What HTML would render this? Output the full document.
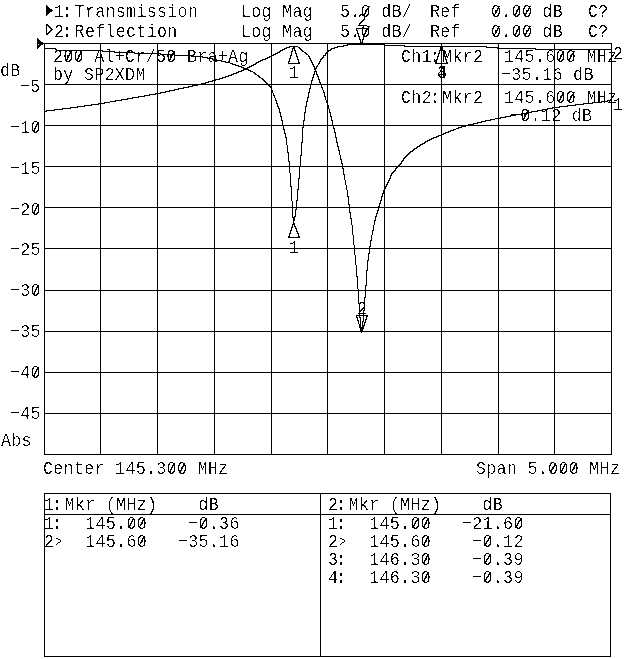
<!DOCTYPE html>
<html><head><meta charset="utf-8"><title>Network analyzer plot</title>
<style>
html,body{margin:0;padding:0;background:#fff;}
body{width:640px;height:659px;position:relative;overflow:hidden;}
.t{position:absolute;white-space:pre;font-family:"Liberation Mono",monospace;font-size:18.0px;line-height:20px;color:#000;letter-spacing:0.273px;transform:scaleX(0.93);transform-origin:0 0;}
svg{position:absolute;left:0;top:0;}
.n{position:relative;top:-1px;}
.c{position:relative;left:-2.4px;}
.g{display:inline-block;transform:translate(1.4px,-1px) scale(0.66,0.86);transform-origin:0 62%;}
#txt{position:absolute;left:0;top:0;width:640px;height:659px;filter:url(#thr);}
</style></head><body>
<svg width="0" height="0"><defs><filter id="thr" x="0" y="0" width="100%" height="100%" color-interpolation-filters="sRGB"><feComponentTransfer><feFuncA type="discrete" tableValues="0 0 0 0 0 0 0 0 0 0 0 0 0 0 0 0 0 0 0 0 0 0 0 0 0 0 0 0 0 0 0 1 1 1 1 1 1 1 1 1 1 1 1 1 1 1 1 1 1 1"/></feComponentTransfer></filter></defs></svg>
<div id="txt">
<div class="t" style="left:54.0px;top:2.21px">1<span class="c">:</span>Transmission</div>
<div class="t" style="left:241.3px;top:2.21px">Log Mag</div>
<div class="t" style="left:340.4px;top:2.21px">5.0 dB/</div>
<div class="t" style="left:429.8px;top:2.21px">Ref</div>
<div class="t" style="left:491.2px;top:2.21px">0.00 dB</div>
<div class="t" style="left:588.4px;top:2.21px">C?</div>
<div class="t" style="left:54.0px;top:22.21px">2<span class="c">:</span>Reflection</div>
<div class="t" style="left:241.3px;top:22.21px">Log Mag</div>
<div class="t" style="left:340.4px;top:22.21px">5.0 dB/</div>
<div class="t" style="left:429.8px;top:22.21px">Ref</div>
<div class="t" style="left:491.2px;top:22.21px">0.00 dB</div>
<div class="t" style="left:588.4px;top:22.21px">C?</div>
<div class="t" style="left:53.1px;top:47.21px">200 Al+Cr/50 Bra+Ag</div>
<div class="t" style="left:53.1px;top:65.21px">by SP2XDM</div>
<div class="t" style="left:401.0px;top:47.21px">Ch1<span class="c">:</span>Mkr2</div>
<div class="t" style="left:504.2px;top:47.21px">145.600 MHz</div>
<div class="t" style="left:500.5px;top:65.21px"><span class="n">−</span>35.16 dB</div>
<div class="t" style="left:401.0px;top:88.21px">Ch2<span class="c">:</span>Mkr2</div>
<div class="t" style="left:504.2px;top:88.21px">145.600 MHz</div>
<div class="t" style="left:510.2px;top:106.21px"><span class="n">−</span>0.12 dB</div>
<div class="t" style="left:-0.2px;top:61.21px">dB</div>
<div class="t" style="left:20.0px;top:77.21px"><span class="n">−</span>5</div>
<div class="t" style="left:9.7px;top:118.21px"><span class="n">−</span>10</div>
<div class="t" style="left:9.7px;top:159.21px"><span class="n">−</span>15</div>
<div class="t" style="left:9.7px;top:200.21px"><span class="n">−</span>20</div>
<div class="t" style="left:9.7px;top:240.21px"><span class="n">−</span>25</div>
<div class="t" style="left:9.7px;top:281.21px"><span class="n">−</span>30</div>
<div class="t" style="left:9.7px;top:322.21px"><span class="n">−</span>35</div>
<div class="t" style="left:9.7px;top:363.21px"><span class="n">−</span>40</div>
<div class="t" style="left:9.7px;top:404.21px"><span class="n">−</span>45</div>
<div class="t" style="left:0.6px;top:431.21px">Abs</div>
<div class="t" style="left:42.8px;top:459.21px">Center 145.300 MHz</div>
<div class="t" style="left:475.5px;top:459.21px">Span 5.000 MHz</div>
<div class="t" style="left:43.5px;top:495.21px">1<span class="c">:</span>Mkr (MHz)    dB</div>
<div class="t" style="left:43.5px;top:514.21px">1<span class="c">:</span>  145.00    <span class="n">−</span>0.36</div>
<div class="t" style="left:43.5px;top:532.21px">2<span class="g">&gt;</span>  145.60   <span class="n">−</span>35.16</div>
<div class="t" style="left:327.6px;top:495.21px">2<span class="c">:</span>Mkr (MHz)    dB</div>
<div class="t" style="left:327.6px;top:514.21px">1<span class="c">:</span>  145.00   <span class="n">−</span>21.60</div>
<div class="t" style="left:327.6px;top:532.21px">2<span class="g">&gt;</span>  145.60    <span class="n">−</span>0.12</div>
<div class="t" style="left:327.6px;top:550.21px">3<span class="c">:</span>  146.30    <span class="n">−</span>0.39</div>
<div class="t" style="left:327.6px;top:568.21px">4<span class="c">:</span>  146.30    <span class="n">−</span>0.39</div>
<div class="t" style="left:288.6px;top:63.21px">1</div>
<div class="t" style="left:288.6px;top:238.21px">1</div>
<div class="t" style="left:356.6px;top:11.21px">2</div>
<div class="t" style="left:356.8px;top:299.21px">2</div>
<div class="t" style="left:436.6px;top:63.21px">3</div>
<div class="t" style="left:436.6px;top:63.21px">4</div>
<div class="t" style="left:612.8px;top:44.21px">2</div>
<div class="t" style="left:613.0px;top:95.21px">1</div>
</div>
<svg width="640" height="659" viewBox="0 0 640 659" shape-rendering="crispEdges" fill="none" stroke="#000" stroke-width="1">
<path d="M44.5 43V455M100.5 43V455M157.5 43V455M214.5 43V455M271.5 43V455M327.5 43V455M384.5 43V455M441.5 43V455M498.5 43V455M554.5 43V455M611.5 43V455M44 43.5H612M44 84.5H612M44 125.5H612M44 166.5H612M44 207.5H612M44 248.5H612M44 290.5H612M44 331.5H612M44 372.5H612M44 413.5H612M44 454.5H612"/>
<path d="M44.5 493V657M610.5 493V657M44 493.5H611M44 656.5H611M44 514.5H611M320.5 493V657"/>
<path stroke="none" fill="#000" d="M386 184v3h1v-3zM293 46v3h1v-3zM293 217v8h1v-8zM272 90v3h1v-3zM285 133v5h1v-5zM439 50v4h1v-4zM369 246v8h1v-8zM297 56v4h1v-4zM297 189v12h1v-12zM297 231v3h1v-3zM359 36v4h1v-4zM359 303v15h1v-15zM359 324v4h1v-4zM291 51v5h1v-5zM291 186v15h1v-15zM291 227v4h1v-4zM318 76v4h1v-4zM373 225v6h1v-6zM310 58v3h1v-3zM310 84v5h1v-5zM288 61v3h1v-3zM288 152v10h1v-10zM354 245v10h1v-10zM375 216v5h1v-5zM350 212v7h1v-7zM281 116v5h1v-5zM356 28v3h1v-3zM356 265v12h1v-12zM356 315v3h1v-3zM334 128v5h1v-5zM299 166v13h1v-13zM317 74v3h1v-3zM298 59v5h1v-5zM298 178v12h1v-12zM298 233v5h1v-5zM344 174v6h1v-6zM46 24v11h1v-11zM377 210v4h1v-4zM363 36v4h1v-4zM363 310v12h1v-12zM363 325v4h1v-4zM324 92v5h1v-5zM442 46v5h1v-5zM326 100v3h1v-3zM385 186v3h1v-3zM304 112v9h1v-9zM290 55v4h1v-4zM290 173v14h1v-14zM290 230v4h1v-4zM343 168v7h1v-7zM443 50v4h1v-4zM353 235v10h1v-10zM362 39v4h1v-4zM362 321v11h1v-11zM438 53v4h1v-4zM330 112v5h1v-5zM309 56v3h1v-3zM309 88v5h1v-5zM340 155v5h1v-5zM287 145v8h1v-8zM444 53v4h1v-4zM368 253v8h1v-8zM372 230v5h1v-5zM307 97v5h1v-5zM331 116v5h1v-5zM283 125v5h1v-5zM352 225v10h1v-10zM284 129v5h1v-5zM376 213v4h1v-4zM336 137v6h1v-6zM247 67v3h1v-3zM401 161v3h1v-3zM347 190v7h1v-7zM51 28v3h1v-3zM357 30v4h1v-4zM357 276v13h1v-13zM357 317v4h1v-4zM243 67v4h1v-4zM303 120v8h1v-8zM308 92v6h1v-6zM358 33v4h1v-4zM358 289v15h1v-15zM358 320v4h1v-4zM295 50v4h1v-4zM295 209v8h1v-8zM295 226v3h1v-3zM296 53v4h1v-4zM296 200v10h1v-10zM296 228v4h1v-4zM361 42v3h1v-3zM361 327v6h1v-6zM367 260v11h1v-11zM280 112v5h1v-5zM380 200v4h1v-4zM332 120v5h1v-5zM289 58v4h1v-4zM289 161v12h1v-12zM289 233v5h1v-5zM315 68v4h1v-4zM302 127v16h1v-16zM292 48v4h1v-4zM292 201v17h1v-17zM292 224v4h1v-4zM322 87v3h1v-3zM301 142v14h1v-14zM366 28v3h1v-3zM366 270v16h1v-16zM366 315v5h1v-5zM325 53v3h1v-3zM325 96v4h1v-4zM360 39v4h1v-4zM360 317v14h1v-14zM286 137v8h1v-8zM348 196v9h1v-9zM300 155v12h1v-12zM339 150v5h1v-5zM365 30v4h1v-4zM365 285v13h1v-13zM365 319v4h1v-4zM395 168v3h1v-3zM342 163v6h1v-6zM355 255v10h1v-10zM436 59v5h1v-5zM379 203v4h1v-4zM364 33v4h1v-4zM364 297v14h1v-14zM364 322v4h1v-4zM314 66v4h1v-4zM314 71v4h1v-4zM305 106v7h1v-7zM345 180v5h1v-5zM335 132v6h1v-6zM387 182v3h1v-3zM440 46v5h1v-5zM390 175v4h1v-4zM273 93v3h1v-3zM275 98v3h1v-3zM374 220v5h1v-5zM276 100v4h1v-4zM321 85v3h1v-3zM338 146v5h1v-5zM294 46v5h1v-5zM294 216v5h1v-5zM294 223v4h1v-4zM382 193v4h1v-4zM306 101v6h1v-6zM351 218v7h1v-7zM445 56v4h1v-4zM327 102v4h1v-4zM446 59v5h1v-5zM316 66v3h1v-3zM316 71v4h1v-4zM282 120v5h1v-5zM388 180v3h1v-3zM312 62v3h1v-3zM312 77v4h1v-4zM437 56v4h1v-4zM311 60v3h1v-3zM311 80v5h1v-5zM391 173v3h1v-3zM349 204v9h1v-9zM370 240v7h1v-7zM383 190v4h1v-4zM329 109v4h1v-4zM378 206v5h1v-5zM279 108v5h1v-5zM337 142v5h1v-5zM389 178v3h1v-3zM277 103v4h1v-4zM271 88v3h1v-3zM371 235v6h1v-6zM323 55v3h1v-3zM323 90v3h1v-3zM384 188v3h1v-3zM341 159v5h1v-5zM328 105v4h1v-4zM381 196v5h1v-5zM313 64v3h1v-3zM313 74v4h1v-4zM319 61v3h1v-3zM319 79v4h1v-4zM346 185v5h1v-5zM274 95v3h1v-3zM278 106v3h1v-3zM333 125v4h1v-4zM403 158v3h1v-3zM320 59v3h1v-3zM320 82v3h1v-3zM197 84h5v1h-5zM267 84h2v1h-2zM70 107h8v1h-8zM552 107h8v1h-8zM62 108h9v1h-9zM547 108h6v1h-6zM231 74h3v1h-3zM255 74h2v1h-2zM241 70h2v1h-2zM248 70h3v1h-3zM422 143h3v1h-3zM110 101h6v1h-6zM601 101h7v1h-7zM175 55h17v1h-17zM271 55h3v1h-3zM308 55h1v1h-1zM324 55h1v1h-1zM134 53h27v1h-27zM275 53h3v1h-3zM305 53h2v1h-2zM326 53h1v1h-1zM228 75h4v1h-4zM257 75h2v1h-2zM241 67h2v1h-2zM248 67h2v1h-2zM232 64h4v1h-4zM253 64h3v1h-3zM318 64h1v1h-1zM138 96h7v1h-7zM230 63h3v1h-3zM255 63h2v1h-2zM289 63h9v1h-9zM299 63h1v1h-1zM318 63h1v1h-1zM435 63h1v1h-1zM437 63h9v1h-9zM447 63h1v1h-1zM233 73h4v1h-4zM254 73h2v1h-2zM55 49h2v1h-2zM282 49h3v1h-3zM300 49h2v1h-2zM330 49h2v1h-2zM535 49h77v1h-77zM114 52h21v1h-21zM277 52h3v1h-3zM304 52h2v1h-2zM326 52h2v1h-2zM44 48h12v1h-12zM284 48h3v1h-3zM299 48h2v1h-2zM331 48h4v1h-4zM497 48h39v1h-39zM347 44h14v1h-14zM362 44h23v1h-23zM216 60h6v1h-6zM260 60h3v1h-3zM47 34h1v1h-1zM222 77h4v1h-4zM259 77h2v1h-2zM77 106h8v1h-8zM559 106h9v1h-9zM44 111h3v1h-3zM531 111h7v1h-7zM424 142h2v1h-2zM191 56h12v1h-12zM269 56h3v1h-3zM308 56h1v1h-1zM212 80h4v1h-4zM263 80h2v1h-2zM238 71h4v1h-4zM250 71h3v1h-3zM289 46h4v1h-4zM295 46h3v1h-3zM337 46h7v1h-7zM404 46h36v1h-36zM441 46h1v1h-1zM443 46h44v1h-44zM443 133h3v1h-3zM244 68h3v1h-3zM174 89h5v1h-5zM201 83h5v1h-5zM266 83h2v1h-2zM221 61h5v1h-5zM258 61h3v1h-3zM91 104h8v1h-8zM575 104h9v1h-9zM47 24h1v1h-1zM54 109h9v1h-9zM542 109h6v1h-6zM160 92h6v1h-6zM47 25h2v1h-2zM84 105h8v1h-8zM567 105h9v1h-9zM286 47h4v1h-4zM298 47h2v1h-2zM334 47h4v1h-4zM441 47h1v1h-1zM486 47h12v1h-12zM44 112h1v1h-1zM526 112h6v1h-6zM485 120h6v1h-6zM188 86h5v1h-5zM269 86h2v1h-2zM149 94h7v1h-7zM104 102h6v1h-6zM592 102h10v1h-10zM183 87h6v1h-6zM270 87h1v1h-1zM396 168h1v1h-1zM207 58h6v1h-6zM265 58h3v1h-3zM321 58h2v1h-2zM473 123h5v1h-5zM288 237h1v1h-1zM290 237h8v1h-8zM299 237h1v1h-1zM500 117h6v1h-6zM407 154h2v1h-2zM56 50h47v1h-47zM280 50h3v1h-3zM301 50h2v1h-2zM328 50h3v1h-3zM461 126h5v1h-5zM431 138h3v1h-3zM515 114h7v1h-7zM102 51h13v1h-13zM279 51h2v1h-2zM302 51h2v1h-2zM327 51h2v1h-2zM238 66h4v1h-4zM249 66h3v1h-3zM317 66h1v1h-1zM414 148h3v1h-3zM49 27h2v1h-2zM46 110h9v1h-9zM537 110h6v1h-6zM50 28h1v1h-1zM357 28h9v1h-9zM521 113h6v1h-6zM453 129h3v1h-3zM343 45h5v1h-5zM384 45h21v1h-21zM448 131h3v1h-3zM160 54h15v1h-15zM273 54h3v1h-3zM306 54h2v1h-2zM132 97h7v1h-7zM219 78h4v1h-4zM261 78h2v1h-2zM420 144h3v1h-3zM208 81h5v1h-5zM264 81h2v1h-2zM169 90h6v1h-6zM155 93h6v1h-6zM244 69h3v1h-3zM248 69h1v1h-1zM235 65h4v1h-4zM251 65h3v1h-3zM317 65h1v1h-1zM225 62h5v1h-5zM256 62h3v1h-3zM299 62h1v1h-1zM435 62h1v1h-1zM447 62h1v1h-1zM505 116h6v1h-6zM212 59h5v1h-5zM262 59h4v1h-4zM321 59h1v1h-1zM404 157h2v1h-2zM205 82h4v1h-4zM265 82h2v1h-2zM400 163h1v1h-1zM510 115h6v1h-6zM477 122h5v1h-5zM468 124h6v1h-6zM98 103h7v1h-7zM583 103h10v1h-10zM412 150h2v1h-2zM495 118h6v1h-6zM465 125h4v1h-4zM458 127h4v1h-4zM357 315h2v1h-2zM360 315h3v1h-3zM364 315h2v1h-2zM367 315h1v1h-1zM50 30h1v1h-1zM121 99h7v1h-7zM450 130h4v1h-4zM202 57h6v1h-6zM267 57h3v1h-3zM322 57h1v1h-1zM192 85h6v1h-6zM268 85h2v1h-2zM441 134h3v1h-3zM52 29h1v1h-1zM481 121h5v1h-5zM48 26h2v1h-2zM405 156h2v1h-2zM427 140h3v1h-3zM392 172h2v1h-2zM115 100h7v1h-7zM607 100h5v1h-5zM429 139h3v1h-3zM404 158h1v1h-1zM127 98h6v1h-6zM144 95h6v1h-6zM419 145h2v1h-2zM436 136h3v1h-3zM49 31h2v1h-2zM438 135h4v1h-4zM490 119h5v1h-5zM406 155h2v1h-2zM393 171h2v1h-2zM413 149h2v1h-2zM399 164h2v1h-2zM215 79h5v1h-5zM262 79h2v1h-2zM445 132h4v1h-4zM178 88h6v1h-6zM396 167h2v1h-2zM410 151h3v1h-3zM425 141h3v1h-3zM456 128h3v1h-3zM394 170h1v1h-1zM397 166h2v1h-2zM288 236h1v1h-1zM299 236h1v1h-1zM408 153h2v1h-2zM417 146h3v1h-3zM48 32h2v1h-2zM398 165h2v1h-2zM409 152h2v1h-2zM225 76h4v1h-4zM258 76h2v1h-2zM165 91h5v1h-5zM402 160h1v1h-1zM416 147h2v1h-2zM236 72h3v1h-3zM253 72h2v1h-2zM433 137h4v1h-4zM47 33h2v1h-2zM367 316h1v1h-1zM392 173h1v1h-1zM402 161h1v1h-1z"/>
<path d="M37 38L44 43.5L37 49Z" fill="#000" stroke="none"/><path d="M38 44h1v1h-1z" fill="#fff" stroke="none"/>
<path d="M46 5L53 10.5L46 16Z" fill="#000" stroke="none"/>
<path stroke="none" fill="#000" d="M67 57v3h1v-3zM485 543v3h1v-3zM485 561v3h1v-3zM485 579v3h1v-3zM34 128v3h1v-3zM34 210v3h1v-3zM34 291v3h1v-3zM34 373v3h1v-3zM498 6v3h1v-3zM498 26v3h1v-3zM517 9v3h1v-3zM517 29v3h1v-3zM517 523v3h1v-3zM569 58v3h1v-3zM569 99v3h1v-3zM520 518v3h1v-3zM561 54v3h1v-3zM561 95v3h1v-3zM561 470v3h1v-3zM564 464v3h1v-3zM575 463v3h1v-3zM426 520v3h1v-3zM426 538v3h1v-3zM426 556v3h1v-3zM426 574v3h1v-3zM364 13v3h1v-3zM364 33v3h1v-3zM571 54v3h1v-3zM571 95v3h1v-3zM35 126v3h1v-3zM35 208v3h1v-3zM35 289v3h1v-3zM35 371v3h1v-3zM424 524v3h1v-3zM424 542v3h1v-3zM424 560v3h1v-3zM424 578v3h1v-3zM489 536v3h1v-3zM489 554v3h1v-3zM489 572v3h1v-3zM368 6v3h1v-3zM368 26v3h1v-3zM201 525v3h1v-3zM516 11v3h1v-3zM516 31v3h1v-3zM516 525v3h1v-3zM497 8v3h1v-3zM497 28v3h1v-3zM560 56v3h1v-3zM560 97v3h1v-3zM563 466v3h1v-3zM414 523v3h1v-3zM570 56v3h1v-3zM570 97v3h1v-3zM132 519v3h1v-3zM173 51v3h1v-3zM173 463v3h1v-3zM528 8v3h1v-3zM528 28v3h1v-3zM141 522v3h1v-3zM141 540v3h1v-3zM553 466v3h1v-3zM172 53v3h1v-3zM172 465v3h1v-3zM37 122v3h1v-3zM37 204v3h1v-3zM37 285v3h1v-3zM37 367v3h1v-3zM524 116v3h1v-3zM78 56v3h1v-3zM129 525v3h1v-3zM143 518v3h1v-3zM143 536v3h1v-3zM183 464v3h1v-3zM496 10v3h1v-3zM496 30v3h1v-3zM527 111v3h1v-3zM488 538v3h1v-3zM488 556v3h1v-3zM488 574v3h1v-3zM526 11v3h1v-3zM526 31v3h1v-3zM518 7v3h1v-3zM518 27v3h1v-3zM518 521v3h1v-3zM171 55v3h1v-3zM171 467v3h1v-3zM515 13v3h1v-3zM515 33v3h1v-3zM427 518v3h1v-3zM427 536v3h1v-3zM427 554v3h1v-3zM427 572v3h1v-3zM551 469v3h1v-3zM36 124v3h1v-3zM36 206v3h1v-3zM36 287v3h1v-3zM36 369v3h1v-3zM574 465v3h1v-3zM525 13v3h1v-3zM525 33v3h1v-3zM525 114v3h1v-3zM425 522v3h1v-3zM425 540v3h1v-3zM425 558v3h1v-3zM425 576v3h1v-3zM417 518v3h1v-3zM562 52v3h1v-3zM562 93v3h1v-3zM562 468v3h1v-3zM573 51v3h1v-3zM573 92v3h1v-3zM573 467v3h1v-3zM203 521v3h1v-3zM142 520v3h1v-3zM142 538v3h1v-3zM80 52v3h1v-3zM413 525v3h1v-3zM131 521v3h1v-3zM182 466v3h1v-3zM68 55v3h1v-3zM170 57v3h1v-3zM170 469v3h1v-3zM529 6v3h1v-3zM529 26v3h1v-3zM554 464v3h1v-3zM365 11v3h1v-3zM365 31v3h1v-3zM486 541v3h1v-3zM486 559v3h1v-3zM486 577v3h1v-3zM130 523v3h1v-3zM415 521v3h1v-3zM366 9v3h1v-3zM366 29v3h1v-3zM202 523v3h1v-3zM79 54v3h1v-3zM181 468v3h1v-3zM70 51v3h1v-3zM205 518v3h1v-3zM69 53v3h1v-3zM572 94h1v1h-1zM204 521h1v1h-1zM416 521h1v1h-1zM519 521h1v1h-1zM369 6h1v1h-1zM499 6h1v1h-1zM519 6h1v1h-1zM530 6h1v1h-1zM66 60h1v1h-1zM76 60h1v1h-1zM169 60h1v1h-1zM558 60h1v1h-1zM568 60h1v1h-1zM552 469h1v1h-1zM572 469h1v1h-1zM363 35h1v1h-1zM494 35h1v1h-1zM514 35h1v1h-1zM524 35h1v1h-1zM169 472h1v1h-1zM179 472h1v1h-1zM550 472h1v1h-1zM560 472h1v1h-1zM571 472h1v1h-1zM174 463h1v1h-1zM184 463h1v1h-1zM555 463h1v1h-1zM565 463h1v1h-1zM576 463h1v1h-1zM204 520h1v1h-1zM416 520h1v1h-1zM519 520h1v1h-1zM33 212h1v1h-1zM523 118h1v1h-1zM33 294h1v1h-1zM66 59h1v1h-1zM76 59h2v1h-2zM169 59h1v1h-1zM558 59h2v1h-2zM423 580h1v1h-1zM184 464h1v1h-1zM555 464h1v1h-1zM565 464h1v1h-1zM572 53h1v1h-1zM369 26h1v1h-1zM499 26h1v1h-1zM519 26h1v1h-1zM530 26h1v1h-1zM563 93h1v1h-1zM33 376h1v1h-1zM133 518h1v1h-1zM144 518h1v1h-1zM206 518h1v1h-1zM418 518h1v1h-1zM428 518h1v1h-1zM521 518h1v1h-1zM367 29h1v1h-1zM495 13h1v1h-1zM428 572h1v1h-1zM490 572h1v1h-1zM144 536h1v1h-1zM428 536h1v1h-1zM490 536h1v1h-1zM558 101h1v1h-1zM568 101h1v1h-1zM526 113h1v1h-1zM528 110h1v1h-1zM71 51h1v1h-1zM81 51h1v1h-1zM174 51h1v1h-1zM563 51h1v1h-1zM574 51h1v1h-1zM128 527h1v1h-1zM139 527h1v1h-1zM200 527h1v1h-1zM412 527h1v1h-1zM423 527h1v1h-1zM515 527h1v1h-1zM180 470h1v1h-1zM572 470h1v1h-1zM495 33h1v1h-1zM527 31h1v1h-1zM558 100h2v1h-2zM519 27h1v1h-1zM140 525h1v1h-1zM140 543h1v1h-1zM169 471h1v1h-1zM179 471h2v1h-2zM550 471h1v1h-1zM571 471h1v1h-1zM494 34h1v1h-1zM139 545h1v1h-1zM423 545h1v1h-1zM484 545h1v1h-1zM139 526h1v1h-1zM423 526h1v1h-1zM487 541h1v1h-1zM139 544h1v1h-1zM423 544h1v1h-1zM487 559h1v1h-1zM363 15h1v1h-1zM494 15h1v1h-1zM514 15h1v1h-1zM524 15h1v1h-1zM367 8h1v1h-1zM33 293h1v1h-1zM563 92h1v1h-1zM574 92h1v1h-1zM81 52h1v1h-1zM563 52h1v1h-1zM367 28h1v1h-1zM33 131h1v1h-1zM495 12h1v1h-1zM527 10h1v1h-1zM33 213h1v1h-1zM423 563h1v1h-1zM484 563h1v1h-1zM423 581h1v1h-1zM484 581h1v1h-1zM572 54h1v1h-1zM38 285h1v1h-1zM38 367h1v1h-1zM527 30h1v1h-1zM140 524h1v1h-1zM559 99h1v1h-1zM487 577h1v1h-1zM526 114h1v1h-1zM528 111h1v1h-1zM552 468h1v1h-1zM487 540h1v1h-1zM572 95h1v1h-1zM77 58h1v1h-1zM559 58h1v1h-1zM33 375h1v1h-1zM523 119h1v1h-1zM367 9h1v1h-1zM33 130h1v1h-1zM133 519h1v1h-1zM423 562h1v1h-1zM495 32h1v1h-1zM140 542h1v1h-1zM428 554h1v1h-1zM490 554h1v1h-1zM527 11h1v1h-1zM519 7h1v1h-1zM38 122h1v1h-1zM487 558h1v1h-1zM38 204h1v1h-1zM494 14h1v1h-1zM487 576h1v1h-1z"/>
</svg>
</body></html>
